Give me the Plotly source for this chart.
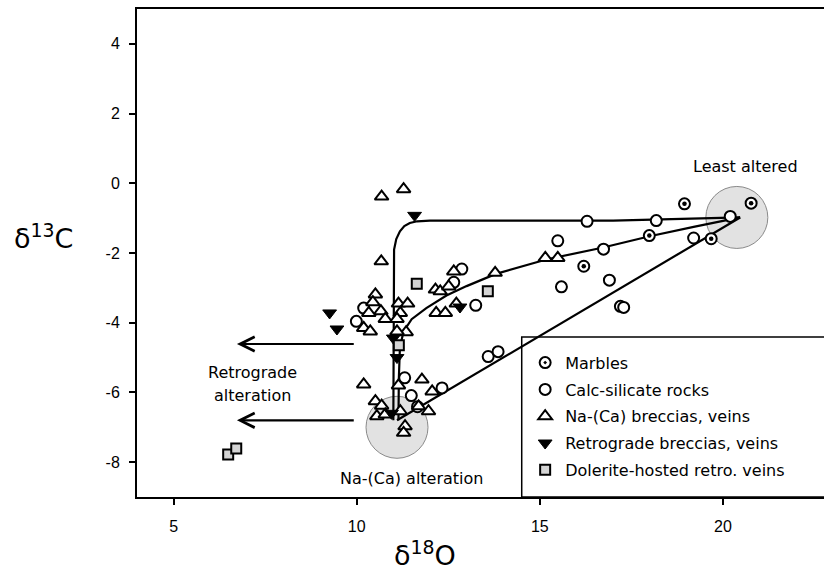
import plotly.graph_objects as go

# ---------------- data ----------------
marbles_x = [18.95, 20.77, 17.99, 19.68, 16.20]
marbles_y = [-0.59, -0.57, -1.50, -1.59, -2.38]

calc_x = [20.20, 16.29, 18.18, 15.49, 16.74, 19.20, 16.90, 15.59, 17.20, 17.29,
          12.87, 12.65, 10.19, 9.99, 13.59, 13.86, 11.31, 11.49, 12.33, 11.66, 13.25]
calc_y = [-0.95, -1.09, -1.07, -1.65, -1.89, -1.57, -2.78, -2.97, -3.53, -3.56,
          -2.46, -2.84, -3.58, -3.96, -4.97, -4.83, -5.58, -6.09, -5.87, -6.41, -3.50]

naca_x = [10.68, 11.28, 10.67, 12.15, 12.28, 12.65, 12.51, 13.78, 15.15, 15.49,
          10.51, 10.44, 10.66, 10.78, 10.19, 10.37, 11.14, 11.39, 11.19, 11.10,
          11.35, 11.10, 12.17, 12.42, 12.72, 10.19, 11.78, 12.06, 11.14, 10.51,
          10.68, 10.55, 10.78, 11.19, 11.32, 11.28, 11.69, 11.96, 10.33]
naca_y = [-0.38, -0.17, -2.24, -3.05, -3.10, -2.53, -2.96, -2.57, -2.14, -2.14,
          -3.19, -3.41, -3.67, -3.89, -4.15, -4.25, -3.45, -3.45, -3.72, -3.89,
          -4.27, -4.25, -3.72, -3.72, -3.45, -5.77, -5.63, -5.97, -5.80, -6.25,
          -6.38, -6.68, -6.63, -6.54, -6.97, -7.16, -6.40, -6.54, -3.72]

retro_x = [11.58, 9.26, 9.46, 11.00, 11.10, 12.82, 10.95]
retro_y = [-0.92, -3.72, -4.18, -4.44, -5.00, -3.55, -6.60]

dol_x = [6.49, 6.71, 11.64, 13.58, 11.15]
dol_y = [-7.78, -7.61, -2.88, -3.10, -4.65]

# alteration zones (centres)
zone_x = [20.38, 11.10]
zone_y = [-0.98, -7.00]

# trend lines
top_x = [11.00, 11.00, 11.02, 11.08, 11.18, 11.30, 11.45, 11.65, 12.00, 17.00, 20.47]
top_y = [-6.80, -2.30, -1.90, -1.60, -1.38, -1.23, -1.14, -1.09, -1.07, -1.07, -0.98]
mid_x = [11.14, 11.15, 11.18, 11.28, 11.50, 11.90, 12.45, 13.00, 13.80, 15.20, 16.70, 18.00, 19.20, 20.47]
mid_y = [-6.80, -5.60, -4.70, -4.25, -3.90, -3.58, -3.22, -2.95, -2.60, -2.18, -1.85, -1.52, -1.25, -0.98]
bot_x = [11.10, 20.47]
bot_y = [-6.80, -0.98]

# arrows
arrow_y = [-4.61, -6.80]
arrow_tail_x = 9.96
arrow_head_x = 6.73

x_ticks = [5, 10, 15, 20]
x_ticktext = ["5", "10", "15", "20"]
y_ticks = [4, 2, 0, -2, -4, -6, -8]
y_ticktext = ["4", "2", "0", "-2", "-4", "-6", "-8"]

TXT = "DejaVu Sans"
TICK = "Liberation Sans"

fig = go.Figure()

fig.add_trace(go.Scatter(x=zone_x, y=zone_y, mode="markers", showlegend=False, hoverinfo="skip",
                         marker=dict(size=62, color="#e2e2e2", line=dict(color="#8a8a8a", width=1))))

for lx, ly in [(top_x, top_y), (mid_x, mid_y), (bot_x, bot_y)]:
    fig.add_trace(go.Scatter(x=lx, y=ly, mode="lines", showlegend=False, hoverinfo="skip",
                             line=dict(color="black", width=2.2)))

fig.add_trace(go.Scatter(x=marbles_x, y=marbles_y, mode="markers", name="Marbles", legendgroup="g1",
                         marker=dict(symbol="circle-dot", size=11, color="white", line=dict(color="black", width=2))))
fig.add_trace(go.Scatter(x=marbles_x, y=marbles_y, mode="markers", showlegend=False, legendgroup="g1",
                         hoverinfo="skip", marker=dict(symbol="circle", size=4.5, color="black")))
fig.add_trace(go.Scatter(x=calc_x, y=calc_y, mode="markers", name="Calc-silicate rocks", legendgroup="g2",
                         marker=dict(symbol="circle", size=11, color="white", line=dict(color="black", width=2))))
fig.add_trace(go.Scatter(x=naca_x, y=naca_y, mode="markers", name="Na-(Ca) breccias, veins", legendgroup="g3",
                         marker=dict(symbol="triangle-up", size=12, color="white", line=dict(color="black", width=2))))
fig.add_trace(go.Scatter(x=retro_x, y=retro_y, mode="markers", name="Retrograde breccias, veins", legendgroup="g4",
                         marker=dict(symbol="triangle-down", size=12, color="black", line=dict(color="black", width=1))))
fig.add_trace(go.Scatter(x=dol_x, y=dol_y, mode="markers", name="Dolerite-hosted retro. veins", legendgroup="g5",
                         marker=dict(symbol="square", size=10, color="#d4d4d4", line=dict(color="black", width=2))))

for ay in arrow_y:
    fig.add_annotation(x=arrow_head_x, y=ay, ax=arrow_tail_x, ay=ay, xref="x", yref="y", axref="x", ayref="y",
                       showarrow=True, arrowhead=5, arrowsize=1.3, arrowwidth=2.2, arrowcolor="black", text="")

for txt, tx, ty in [("Retrograde", 7.16, -5.44), ("alteration", 7.16, -6.09),
                    ("Least altered", 20.61, 0.47), ("Na-(Ca) alteration", 11.52, -8.47)]:
    fig.add_annotation(x=tx, y=ty, xref="x", yref="y", text=txt, showarrow=False,
                       xanchor="center", yanchor="middle",
                       font=dict(family=TXT, size=16, color="black"))

# axis titles
fig.add_annotation(x=-0.136, y=0.533, xref="paper", yref="paper", text="δ<sup>13</sup>C", showarrow=False,
                   xanchor="center", yanchor="middle", font=dict(family=TXT, size=27, color="black"))
fig.add_annotation(x=0.4195, y=-0.115, xref="paper", yref="paper", text="δ<sup>18</sup>O", showarrow=False,
                   xanchor="center", yanchor="middle", font=dict(family=TXT, size=27, color="black"))

# legend frame
fig.add_shape(type="rect", xref="paper", yref="paper", x0=0.56, x1=1.05, y0=0, y1=0.328,
              line=dict(color="black", width=1.5), fillcolor="white", layer="below")

fig.update_layout(
    width=824, height=573,
    margin=dict(l=137, r=0, t=9, b=76),
    paper_bgcolor="white", plot_bgcolor="rgba(0,0,0,0)",
    showlegend=True,
    legend=dict(x=0.565, y=0.31, xanchor="left", yanchor="top", bgcolor="rgba(0,0,0,0)",
                borderwidth=0, font=dict(family=TXT, size=16, color="black"), tracegroupgap=3,
                traceorder="grouped"),
    xaxis=dict(range=[4, 22.76], tickvals=x_ticks, ticktext=x_ticktext, ticks="outside", ticklen=6, tickwidth=1.5,
               tickcolor="black", showline=True, linecolor="black", linewidth=2, mirror=True,
               showgrid=False, zeroline=False, tickfont=dict(family=TICK, size=16, color="black"),
               ticklabelstandoff=8),
    yaxis=dict(range=[-9, 5], tickvals=y_ticks, ticktext=y_ticktext, ticks="outside", ticklen=6, tickwidth=1.5,
               tickcolor="black", showline=True, linecolor="black", linewidth=2, mirror=False,
               showgrid=False, zeroline=False, tickfont=dict(family=TICK, size=16, color="black"),
               ticklabelstandoff=6),
)

fig.write_html("out.html")
